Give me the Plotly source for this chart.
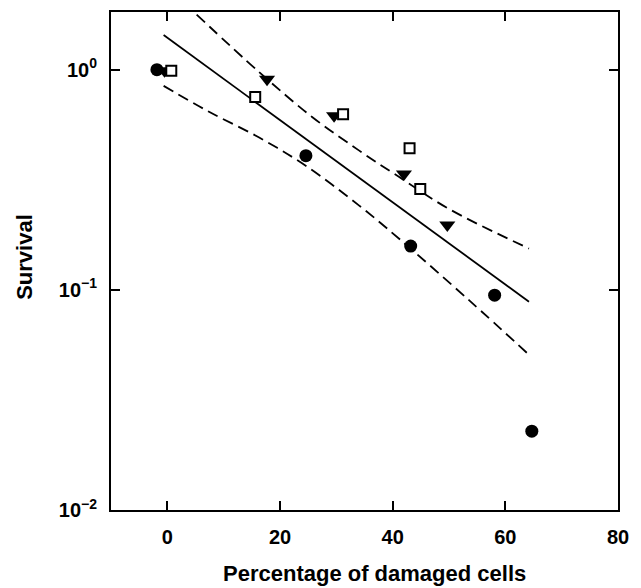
import plotly.graph_objects as go

# Data
circle_x = [-1.85, 24.6, 43.2, 58.1, 64.7]
circle_y = [1.0, 0.407, 0.158, 0.0946, 0.0228]

triangle_x = [-0.5, 17.7, 29.6, 42.0, 49.7]
triangle_y = [0.99, 0.904, 0.617, 0.336, 0.197]

square_x = [0.7, 15.6, 31.2, 43.0, 44.9]
square_y = [0.99, 0.752, 0.628, 0.44, 0.287]

fit_x = [-0.66, 64.2]
fit_y = [1.436, 0.0883]

upper_x = [5.2, 16.2, 25.7, 34.0, 41.1, 50.0, 64.2]
upper_y = [1.78, 0.98, 0.61, 0.43, 0.326, 0.233, 0.154]

lower_x = [-0.66, 7.4, 16.3, 24.5, 34.0, 41.1, 53.5, 64.2]
lower_y = [0.844, 0.644, 0.492, 0.367, 0.242, 0.171, 0.090, 0.0507]

x_ticks = [0, 20, 40, 60, 80]
y_ticks = [0.01, 0.1, 1]
y_ticktext = ["10<sup>\u22122</sup>", "10<sup>\u22121</sup>", "10<sup>0</sup>"]

FONT = "Liberation Sans"

fig = go.Figure()
fig.add_trace(go.Scatter(x=fit_x, y=fit_y, mode="lines",
                         line=dict(color="black", width=1.8)))
fig.add_trace(go.Scatter(x=upper_x, y=upper_y, mode="lines", line_shape="spline",
                         line=dict(color="black", width=1.8, dash="11px,6px")))
fig.add_trace(go.Scatter(x=lower_x, y=lower_y, mode="lines", line_shape="spline",
                         line=dict(color="black", width=1.8, dash="11px,6px")))
fig.add_trace(go.Scatter(x=circle_x, y=circle_y, mode="markers",
                         marker=dict(symbol="circle", size=13, color="black")))
fig.add_trace(go.Scatter(x=triangle_x, y=triangle_y, mode="markers",
                         marker=dict(symbol="triangle-down", size=14, color="black")))
fig.add_trace(go.Scatter(x=square_x, y=square_y, mode="markers",
                         marker=dict(symbol="square", size=10, color="white",
                                     line=dict(color="black", width=2))))

fig.update_layout(
    width=641, height=588,
    margin=dict(l=111, r=23, t=10, b=78),
    plot_bgcolor="white", paper_bgcolor="white",
    showlegend=False,
    font=dict(family=FONT, color="black"),
    annotations=[
        dict(text="<b>Percentage of damaged cells</b>", xref="paper", yref="paper",
             x=0.519, y=-0.128, xanchor="center", yanchor="middle", showarrow=False,
             font=dict(size=22, family=FONT, color="black")),
        dict(text="<b>Survival</b>", xref="paper", yref="paper",
             x=-0.172, y=0.508, xanchor="center", yanchor="middle", showarrow=False,
             textangle=-90, font=dict(size=22, family=FONT, color="black")),
    ],
)
fig.update_xaxes(range=[-10, 80], tickvals=x_ticks,
                 ticktext=["<b>%d</b>" % v for v in x_ticks],
                 ticks="inside", ticklen=9,
                 tickwidth=2, tickcolor="black", showline=True, linewidth=2,
                 linecolor="black", mirror="ticks", showgrid=False, zeroline=False,
                 ticklabelstandoff=8,
                 tickfont=dict(size=20, family=FONT, color="black"))
fig.update_yaxes(type="log", range=[-2, 0.262], tickvals=y_ticks,
                 ticktext=["<b>" + t + "</b>" for t in y_ticktext],
                 ticks="inside", ticklen=9, tickwidth=2, tickcolor="black",
                 showline=True, linewidth=2, linecolor="black", mirror="ticks",
                 showgrid=False, zeroline=False, ticklabelstandoff=8,
                 tickfont=dict(size=20, family=FONT, color="black"))

fig.write_html("out.html", config={"displayModeBar": False},
               post_script="document.body.style.margin='0';document.body.style.overflow='hidden';")
